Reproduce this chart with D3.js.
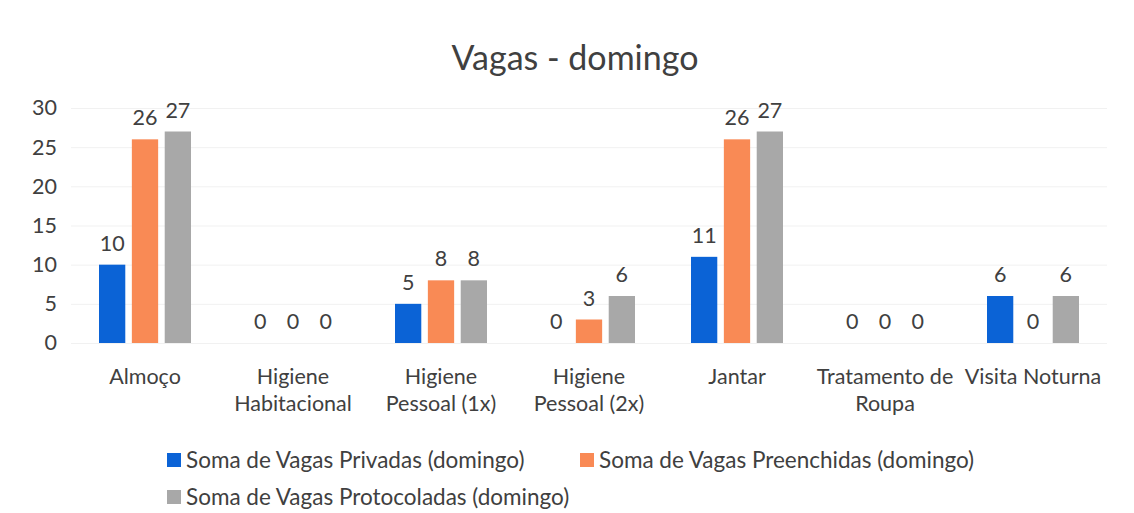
<!DOCTYPE html>
<html>
<head>
<meta charset="utf-8">
<script src="https://cdn.jsdelivr.net/npm/d3@7"></script>
<style>
  body { margin: 0; background: #fff; }
  text { font-family: Lato, "Open Sans", sans-serif; fill: #404040; }
</style>
</head>
<body>
<svg id="chart" width="1134" height="513"></svg>
<script>
'use strict';

const categories = ['Almoço', 'Higiene Habitacional', 'Higiene Pessoal (1x)', 'Higiene Pessoal (2x)',
    'Jantar', 'Tratamento de Roupa', 'Visita Noturna'];
const seriesNames = [
    'Soma de Vagas Privadas (domingo)',
    'Soma de Vagas Preenchidas (domingo)',
    'Soma de Vagas Protocoladas (domingo)'
];
const privadas = [10, 0, 5, 0, 11, 0, 6];
const preenchidas = [26, 0, 8, 3, 26, 0, 0];
const protocoladas = [27, 0, 8, 6, 27, 0, 6];
const yTicks = [0, 5, 10, 15, 20, 25, 30];
const colours = ['#0b63d6', '#f98a55', '#a8a8a8'];

const series = [privadas, preenchidas, protocoladas];
const fontSize = '21.5px';

const svg = d3.select('#chart');
const margin = {left: 71, right: 27, top: 108, bottom: 170};
const plotW = 1134 - margin.left - margin.right;
const plotH = 513 - margin.top - margin.bottom;

const x = d3.scaleBand().domain(categories).range([0, plotW]).paddingInner(0).paddingOuter(0);
const xInner = d3.scaleBand().domain(d3.range(series.length)).range([28, x.bandwidth() - 28]).paddingInner(0.2);
const y = d3.scaleLinear().domain([0, 30]).range([plotH, 0]);

// title
svg.append('text')
    .attr('x', 575)
    .attr('y', 70)
    .attr('text-anchor', 'middle')
    .style('font-size', '34px')
    .text('Vagas - domingo');

const g = svg.append('g').attr('transform', `translate(${margin.left},${margin.top})`);

// gridlines (very faint in the scan)
g.append('g')
    .selectAll('line')
    .data(yTicks)
    .enter()
    .append('line')
    .attr('x1', 0)
    .attr('x2', plotW)
    .attr('y1', (d) => y(d) + 0.5)
    .attr('y2', (d) => y(d) + 0.5)
    .attr('stroke', '#f1f1f1');

// y axis
const yAxis = g.append('g')
    .call(d3.axisLeft(y).tickValues(yTicks).tickSize(0).tickPadding(14));
yAxis.select('.domain').remove();
yAxis.selectAll('text').style('font-size', fontSize).style('font-family', 'Lato, sans-serif').attr('fill', '#404040');

// bars
series.forEach((values, si) => {

    let grp = g.append('g');

    grp.selectAll('rect')
        .data(values)
        .enter()
        .append('rect')
        .attr('x', (d, i) => x(categories[i]) + xInner(si))
        .attr('y', (d) => y(d))
        .attr('width', xInner.bandwidth())
        .attr('height', (d) => plotH - y(d))
        .attr('fill', colours[si]);

    grp.selectAll('text')
        .data(values)
        .enter()
        .append('text')
        .attr('x', (d, i) => x(categories[i]) + xInner(si) + xInner.bandwidth() / 2)
        .attr('y', (d) => y(d) - 14)
        .attr('text-anchor', 'middle')
        .style('font-size', fontSize)
        .text((d) => d);
});

// x axis labels, wrapped to band width
const xAxis = g.append('g')
    .attr('transform', `translate(0,${plotH})`)
    .call(d3.axisBottom(x).tickSize(0).tickPadding(26));
xAxis.select('.domain').remove();
xAxis.selectAll('text')
    .style('font-size', fontSize)
    .style('font-family', 'Lato, sans-serif')
    .attr('fill', '#404040')
    .each(function(d) {

        let text = d3.select(this);
        let words = d.split(' ');
        let lines = [];
        let line = [];
        let maxW = x.bandwidth();
        let probe = text.text(null).append('tspan');
        words.forEach((w) => {
            line.push(w);
            probe.text(line.join(' '));
            if(probe.node().getComputedTextLength() > maxW && line.length > 1) {
                line.pop();
                lines.push(line.join(' '));
                line = [w];
            }
        });
        lines.push(line.join(' '));
        probe.remove();
        let yy = text.attr('y');
        lines.forEach((l, li) => {
            text.append('tspan')
                .attr('x', 0)
                .attr('y', yy)
                .attr('dy', `${0.71 + li * 1.25}em`)
                .text(l);
        });
    });

// legend
const legendPos = [[167, 460], [580, 460], [167, 497]];
const legend = svg.append('g');
seriesNames.forEach((name, i) => {

    let item = legend.append('g').attr('transform', `translate(${legendPos[i][0]},${legendPos[i][1]})`);
    item.append('rect')
        .attr('x', 0)
        .attr('y', -7)
        .attr('width', 14)
        .attr('height', 14)
        .attr('fill', colours[i]);
    item.append('text')
        .attr('x', 19)
        .attr('y', 0)
        .attr('dy', '0.35em')
        .style('font-size', '22.5px')
        .text(name);
});
</script>
</body>
</html>
